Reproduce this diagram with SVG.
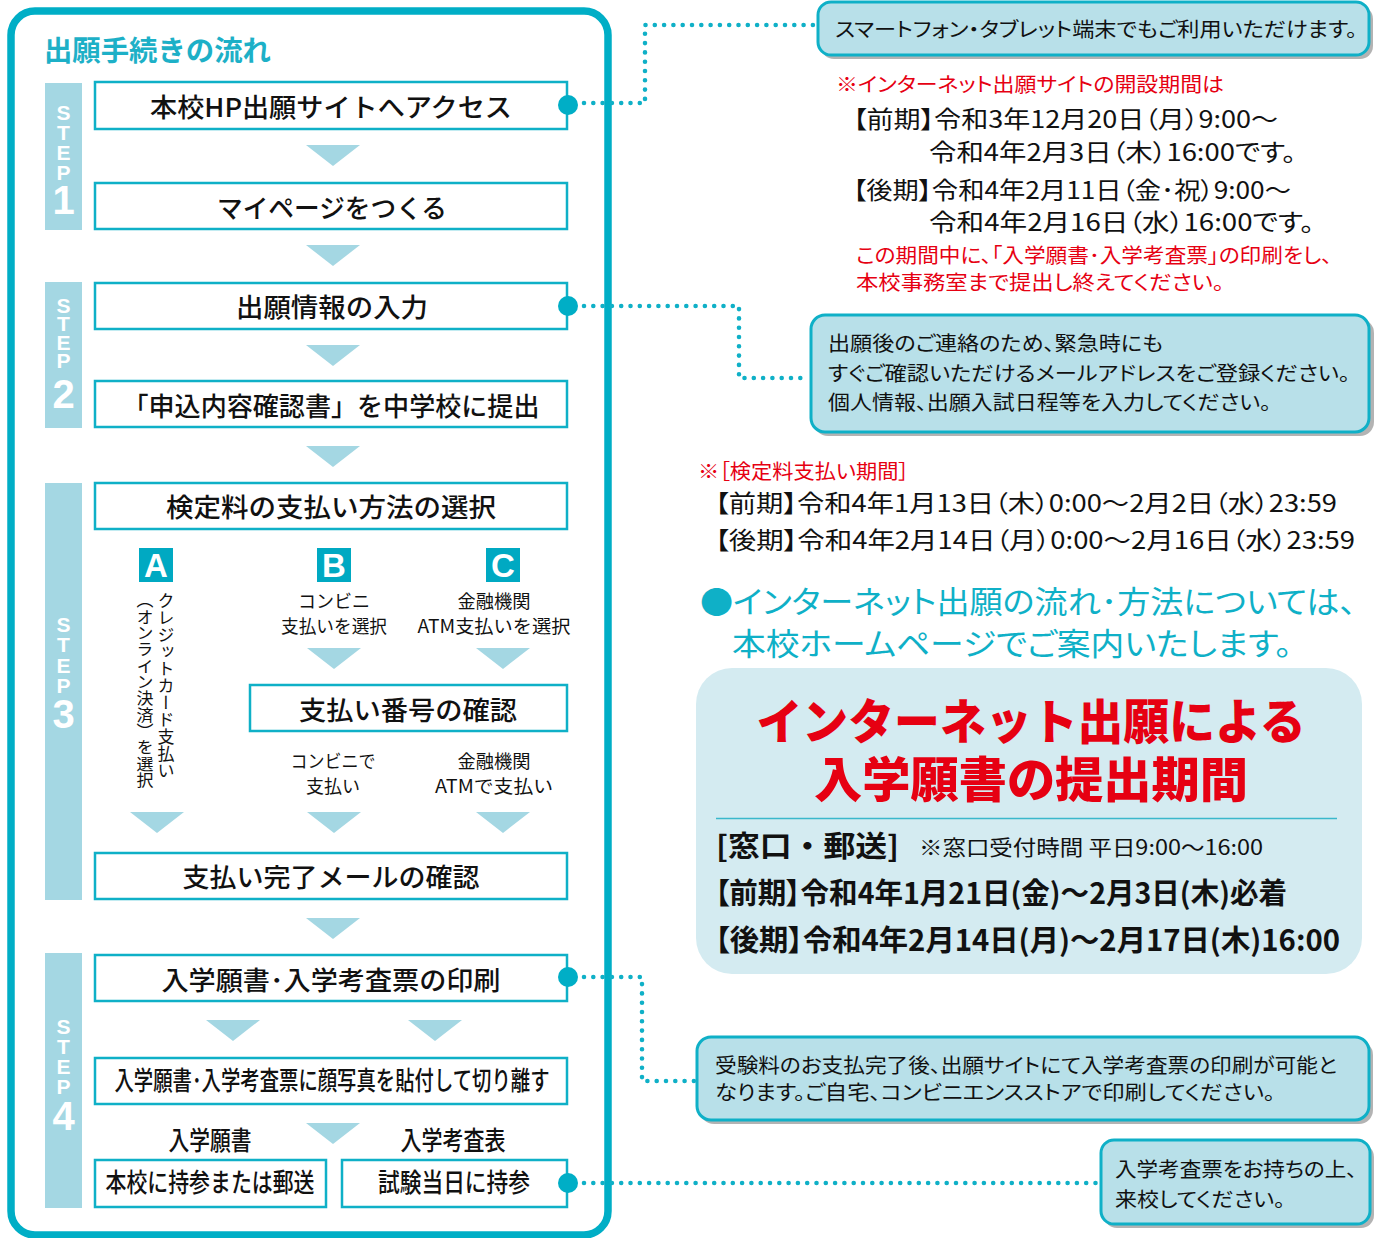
<svg xmlns="http://www.w3.org/2000/svg" xmlns:xlink="http://www.w3.org/1999/xlink" width="1381" height="1238" viewBox="0 0 1381 1238">
<defs>
<style>
.jp{font-family:"Noto Sans CJK JP","Noto Sans CJK SC",sans-serif;}
.p{font-feature-settings:"palt" 1;}
.box{fill:#ffffff;stroke:#0fb0c7;stroke-width:2.5;}
.bar{fill:#a4d7e3;}
.tri{fill:#a4d7e3;}
.bt{font-size:26px;fill:#111;text-anchor:middle;font-weight:500;}
.st{font-family:"Liberation Sans",Arial,sans-serif;font-weight:700;fill:#fff;text-anchor:middle;font-size:21px;}
.sn{font-size:40px;}
.sq{fill:#00a9c2;}
.sqt{font-family:"Liberation Sans",Arial,sans-serif;font-weight:700;fill:#fff;font-size:33px;text-anchor:middle;}
.sm{font-size:18px;fill:#111;text-anchor:middle;}
.dot{fill:none;stroke:#0fb0c7;stroke-width:4.6;stroke-linecap:round;stroke-dasharray:0 9.3;}
.knob{fill:#00aec6;}
.co{fill:#b8e0e9;stroke:#0fb0c7;stroke-width:3;}
.sh{fill:#9a9a9a;opacity:0.75;}
.ct{font-size:20px;fill:#111;}
.red{fill:#e60012;}
.blk{fill:#111;}
</style>
<path id="tri" d="M-27,0 L27,0 L0,21 Z"/>
</defs>

<!-- outer frame -->
<rect x="11" y="11" width="597" height="1224" rx="24" fill="#ffffff" stroke="#00aec6" stroke-width="7.5"/>
<text class="jp" x="44" y="61" font-size="28" font-weight="700" fill="#1db0c7" textLength="227" lengthAdjust="spacingAndGlyphs">出願手続きの流れ</text>

<!-- step bars -->
<g id="step1">
<rect class="bar" x="45" y="83" width="37" height="147"/>
<text class="st" x="63.5 63.5 63.5 63.5" y="120 140 160 180">STEP</text>
<text class="st sn" x="63.5" y="214">1</text>
</g>
<g id="step2">
<rect class="bar" x="45" y="282" width="37" height="146"/>
<text class="st" x="63.5 63.5 63.5 63.5" y="313 331 350 368">STEP</text>
<text class="st sn" x="63.5" y="408">2</text>
</g>
<g id="step3">
<rect class="bar" x="45" y="483" width="37" height="417"/>
<text class="st" x="63.5 63.5 63.5 63.5" y="632 652 673 693">STEP</text>
<text class="st sn" x="63.5" y="728">3</text>
</g>
<g id="step4">
<rect class="bar" x="45" y="953" width="37" height="255"/>
<text class="st" x="63.5 63.5 63.5 63.5" y="1034 1054 1074 1094">STEP</text>
<text class="st sn" x="63.5" y="1130">4</text>
</g>

<!-- flow boxes -->
<g id="n1"><rect class="box" x="95" y="82" width="472" height="47"/><text class="jp bt" x="331" y="117" textLength="362" lengthAdjust="spacingAndGlyphs">本校HP出願サイトへアクセス</text></g>
<g id="n2"><rect class="box" x="95" y="183" width="472" height="46"/><text class="jp bt" x="332" y="218" textLength="230" lengthAdjust="spacingAndGlyphs">マイページをつくる</text></g>
<g id="n3"><rect class="box" x="95" y="283" width="472" height="46"/><text class="jp bt" x="332" y="317" textLength="192" lengthAdjust="spacingAndGlyphs">出願情報の入力</text></g>
<g id="n4"><rect class="box" x="95" y="381" width="472" height="46"/><text class="jp bt" x="331" y="416" textLength="417" lengthAdjust="spacingAndGlyphs">「申込内容確認書」を中学校に提出</text></g>
<g id="n5"><rect class="box" x="95" y="483" width="472" height="46"/><text class="jp bt" x="331" y="517" textLength="330" lengthAdjust="spacingAndGlyphs">検定料の支払い方法の選択</text></g>

<g id="optA">
<rect class="sq" x="139" y="548" width="34" height="34"/><text class="sqt" x="156" y="577">A</text>
<text class="jp" x="166" y="592" font-size="17" fill="#111" style="writing-mode:vertical-rl" textLength="187" lengthAdjust="spacingAndGlyphs">クレジットカード支払い</text>
<text class="jp" x="145" y="592" font-size="17" fill="#111" style="writing-mode:vertical-rl" textLength="196" lengthAdjust="spacingAndGlyphs">（オンライン決済）を選択</text>
</g>
<g id="optB">
<rect class="sq" x="317" y="548" width="34" height="34"/><text class="sqt" x="334" y="577">B</text>
<text class="jp sm" x="334" y="608">コンビニ</text>
<text class="jp sm" x="334" y="633" textLength="106" lengthAdjust="spacingAndGlyphs">支払いを選択</text>
</g>
<g id="optC">
<rect class="sq" x="486" y="548" width="34" height="34"/><text class="sqt" x="503" y="577">C</text>
<text class="jp sm" x="494" y="608" textLength="73" lengthAdjust="spacingAndGlyphs">金融機関</text>
<text class="jp sm" x="494" y="633" textLength="153" lengthAdjust="spacingAndGlyphs">ATM支払いを選択</text>
</g>

<g id="n6"><rect class="box" x="250" y="685" width="317" height="46"/><text class="jp bt" x="408" y="720" textLength="218" lengthAdjust="spacingAndGlyphs">支払い番号の確認</text></g>
<g id="lblB2"><text class="jp sm" x="333" y="768" textLength="85" lengthAdjust="spacingAndGlyphs">コンビニで</text><text class="jp sm" x="333" y="793">支払い</text></g>
<g id="lblC2"><text class="jp sm" x="494" y="768" textLength="73" lengthAdjust="spacingAndGlyphs">金融機関</text><text class="jp sm" x="494" y="793" textLength="118" lengthAdjust="spacingAndGlyphs">ATMで支払い</text></g>

<g id="n7"><rect class="box" x="95" y="853" width="472" height="46"/><text class="jp bt" x="331" y="887" textLength="297" lengthAdjust="spacingAndGlyphs">支払い完了メールの確認</text></g>
<g id="n8"><rect class="box" x="95" y="955" width="472" height="46"/><text class="jp bt" x="331" y="990" textLength="339" lengthAdjust="spacingAndGlyphs">入学願書･入学考査票の印刷</text></g>
<g id="n9"><rect class="box" x="95" y="1058" width="472" height="46"/><text class="jp bt" x="332" y="1090" font-size="19" textLength="435" lengthAdjust="spacingAndGlyphs">入学願書･入学考査票に顔写真を貼付して切り離す</text></g>
<g id="lbl4"><text class="jp bt" x="210" y="1150" font-size="21" textLength="83" lengthAdjust="spacingAndGlyphs">入学願書</text><text class="jp bt" x="453" y="1150" font-size="21" textLength="105" lengthAdjust="spacingAndGlyphs">入学考査表</text></g>
<g id="n10"><rect class="box" x="95" y="1160" width="231" height="47"/><text class="jp bt" x="210" y="1192" font-size="21" textLength="209" lengthAdjust="spacingAndGlyphs">本校に持参または郵送</text></g>
<g id="n11"><rect class="box" x="342" y="1160" width="225" height="47"/><text class="jp bt" x="454" y="1192" font-size="21" textLength="152" lengthAdjust="spacingAndGlyphs">試験当日に持参</text></g>

<!-- flow arrows -->
<g id="arrows">
<use xlink:href="#tri" class="tri" x="333" y="145"/>
<use xlink:href="#tri" class="tri" x="333" y="245"/>
<use xlink:href="#tri" class="tri" x="333" y="345"/>
<use xlink:href="#tri" class="tri" x="333" y="446"/>
<use xlink:href="#tri" class="tri" x="334" y="648"/>
<use xlink:href="#tri" class="tri" x="503" y="648"/>
<use xlink:href="#tri" class="tri" x="157" y="812"/>
<use xlink:href="#tri" class="tri" x="334" y="812"/>
<use xlink:href="#tri" class="tri" x="503" y="812"/>
<use xlink:href="#tri" class="tri" x="333" y="918"/>
<use xlink:href="#tri" class="tri" x="233" y="1020"/>
<use xlink:href="#tri" class="tri" x="435" y="1020"/>
<use xlink:href="#tri" class="tri" x="333" y="1123"/>
</g>

<!-- connectors -->
<g id="connectors">
<path class="dot" d="M584,103 H645 V25 H815"/>
<path class="dot" d="M584,306 H739 V378 H808"/>
<path class="dot" d="M584,977 H642 V1081 H694"/>
<path class="dot" d="M584,1183 H1098"/>
<circle class="knob" cx="568" cy="105" r="10"/>
<circle class="knob" cx="568" cy="306" r="10"/>
<circle class="knob" cx="568" cy="977" r="10"/>
<circle class="knob" cx="568" cy="1183" r="10"/>
</g>

<!-- callouts -->
<g id="callout1">
<rect class="sh" x="821" y="6" width="552" height="53" rx="13"/>
<rect class="co" x="818" y="2" width="551" height="53" rx="13"/>
<text class="jp p ct" x="835" y="37" textLength="522" lengthAdjust="spacingAndGlyphs">スマートフォン・タブレット端末でもご利用いただけます。</text>
</g>
<g id="period1">
<text class="jp p red" x="836" y="92" font-size="20" textLength="388" lengthAdjust="spacingAndGlyphs">※インターネット出願サイトの開設期間は</text>
<text class="jp p blk" x="853" y="128" font-size="24" textLength="425" lengthAdjust="spacingAndGlyphs">【前期】令和3年12月20日（月）9:00～</text>
<text class="jp p blk" x="929" y="161" font-size="24" textLength="367" lengthAdjust="spacingAndGlyphs">令和4年2月3日（木）16:00です。</text>
<text class="jp p blk" x="853" y="199" font-size="24" textLength="438" lengthAdjust="spacingAndGlyphs">【後期】令和4年2月11日（金･祝）9:00～</text>
<text class="jp p blk" x="929" y="231" font-size="24" textLength="385" lengthAdjust="spacingAndGlyphs">令和4年2月16日（水）16:00です。</text>
<text class="jp p red" x="856" y="263" font-size="20" textLength="476" lengthAdjust="spacingAndGlyphs">この期間中に、「入学願書･入学考査票」の印刷をし、</text>
<text class="jp p red" x="856" y="290" font-size="20" textLength="368" lengthAdjust="spacingAndGlyphs">本校事務室まで提出し終えてください。</text>
</g>
<g id="callout2">
<rect class="sh" x="814" y="319" width="560" height="117" rx="14"/>
<rect class="co" x="811" y="315" width="558" height="117" rx="14"/>
<text class="jp p ct" x="828" y="351" textLength="335" lengthAdjust="spacingAndGlyphs">出願後のご連絡のため、緊急時にも</text>
<text class="jp p ct" x="828" y="381" textLength="522" lengthAdjust="spacingAndGlyphs">すぐご確認いただけるメールアドレスをご登録ください。</text>
<text class="jp p ct" x="828" y="410" textLength="443" lengthAdjust="spacingAndGlyphs">個人情報、出願入試日程等を入力してください。</text>
</g>
<g id="period2">
<text class="jp p red" x="698" y="479" font-size="20" textLength="211" lengthAdjust="spacingAndGlyphs">※［検定料支払い期間］</text>
<text class="jp p blk" x="715" y="512" font-size="24" textLength="622" lengthAdjust="spacingAndGlyphs">【前期】令和4年1月13日（木）0:00～2月2日（水）23:59</text>
<text class="jp p blk" x="715" y="549" font-size="24" textLength="640" lengthAdjust="spacingAndGlyphs">【後期】令和4年2月14日（月）0:00～2月16日（水）23:59</text>
</g>
<g id="notice">
<text class="jp p" x="700" y="613" font-size="31" fill="#0fb0c7" textLength="656" lengthAdjust="spacingAndGlyphs">●インターネット出願の流れ･方法については、</text>
<text class="jp p" x="732" y="655" font-size="31" fill="#0fb0c7" textLength="560" lengthAdjust="spacingAndGlyphs">本校ホームページでご案内いたします。</text>
</g>
<g id="submission">
<rect x="696" y="668" width="666" height="306" rx="36" fill="#d4ebf1"/>
<text class="jp red" x="1031" y="739" font-size="48" font-weight="900" text-anchor="middle" textLength="549" lengthAdjust="spacingAndGlyphs">インターネット出願による</text>
<text class="jp red" x="1031" y="797" font-size="48" font-weight="900" text-anchor="middle" textLength="434" lengthAdjust="spacingAndGlyphs">入学願書の提出期間</text>
<line x1="716" y1="818.5" x2="1337" y2="818.5" stroke="#3ab8cc" stroke-width="1.5"/>
<text class="jp blk" x="716" y="857" font-size="29" font-weight="700" textLength="183" lengthAdjust="spacingAndGlyphs">[窓口・郵送]</text>
<text class="jp p blk" x="919" y="855" font-size="21" textLength="344" lengthAdjust="spacingAndGlyphs">※窓口受付時間 平日9:00～16:00</text>
<text class="jp p blk" x="715" y="904" font-size="29" font-weight="700" textLength="572" lengthAdjust="spacingAndGlyphs">【前期】令和4年1月21日(金)～2月3日(木)必着</text>
<text class="jp p blk" x="715" y="951" font-size="29" font-weight="700" textLength="625" lengthAdjust="spacingAndGlyphs">【後期】令和4年2月14日(月)～2月17日(木)16:00</text>
</g>
<g id="callout3">
<rect class="sh" x="700" y="1041" width="673" height="83" rx="14"/>
<rect class="co" x="697" y="1037" width="672" height="83" rx="14"/>
<text class="jp p ct" x="715" y="1073" textLength="622" lengthAdjust="spacingAndGlyphs">受験料のお支払完了後、出願サイトにて入学考査票の印刷が可能と</text>
<text class="jp p ct" x="715" y="1100" textLength="560" lengthAdjust="spacingAndGlyphs">なります。ご自宅、コンビニエンスストアで印刷してください。</text>
</g>
<g id="callout4">
<rect class="sh" x="1104" y="1144" width="270" height="84" rx="13"/>
<rect class="co" x="1101" y="1140" width="269" height="84" rx="13"/>
<text class="jp p ct" x="1115" y="1177" textLength="242" lengthAdjust="spacingAndGlyphs">入学考査票をお持ちの上、</text>
<text class="jp p ct" x="1115" y="1207" textLength="170" lengthAdjust="spacingAndGlyphs">来校してください。</text>
</g>
</svg>
